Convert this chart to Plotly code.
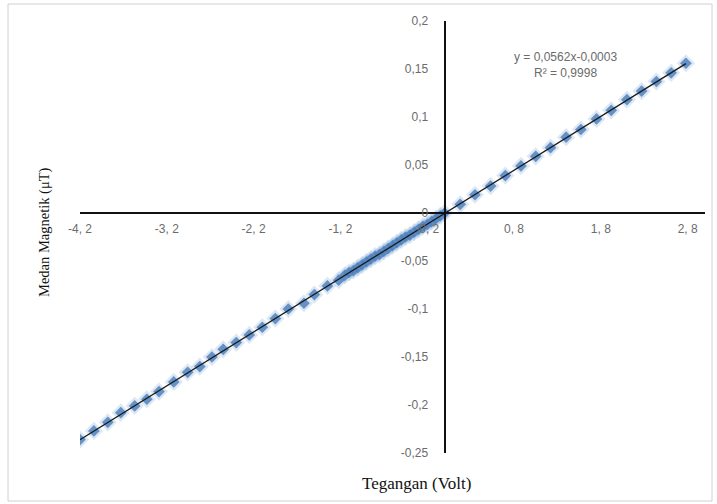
import numpy as np
import plotly.graph_objects as go

# ---- data ----
tegangan = [-4.2, -4.04, -3.88, -3.73, -3.57, -3.43, -3.29, -3.12, -2.96, -2.82,
            -2.68, -2.55, -2.40, -2.25, -2.10, -1.95, -1.80, -1.62, -1.50, -1.35,
            -1.22, -1.15, -1.10, -1.05, -1.00, -0.95, -0.90, -0.85, -0.80, -0.75,
            -0.70, -0.65, -0.60, -0.55, -0.50, -0.45, -0.40, -0.35, -0.30, -0.25,
            -0.20, -0.15, -0.10, -0.05, 0.00,
            0.18, 0.35, 0.53, 0.70, 0.88, 1.05, 1.22, 1.40, 1.57, 1.75,
            1.92, 2.10, 2.27, 2.44, 2.61, 2.78]
medan = [-0.236, -0.227, -0.218, -0.208, -0.201, -0.194, -0.186, -0.176, -0.166, -0.160,
         -0.150, -0.142, -0.135, -0.127, -0.119, -0.110, -0.100, -0.094, -0.085, -0.076,
         -0.070, -0.065, -0.062, -0.060, -0.057, -0.054, -0.051, -0.048, -0.045, -0.043,
         -0.040, -0.037, -0.034, -0.031, -0.028, -0.025, -0.023, -0.020, -0.017, -0.014,
         -0.012, -0.009, -0.006, -0.003, 0.000,
         0.009, 0.019, 0.028, 0.039, 0.049, 0.059, 0.068, 0.079, 0.087, 0.098,
         0.107, 0.118, 0.127, 0.137, 0.146, 0.156]

x_ticks = [-4.2, -3.2, -2.2, -1.2, -0.2, 0.8, 1.8, 2.8]
x_tick_labels = ["-4, 2", "-3, 2", "-2, 2", "-1, 2", "-0, 2", "0, 8", "1, 8", "2, 8"]
y_ticks = [0.2, 0.15, 0.1, 0.05, 0, -0.05, -0.1, -0.15, -0.2, -0.25]
y_tick_labels = ["0,2", "0,15", "0,1", "0,05", "0", "-0,05", "-0,1", "-0,15", "-0,2", "-0,25"]
equation_text = "y = 0,0562x-0,0003<br>R² = 0,9998"
x_title = "Tegangan (Volt)"
y_title = "Medan Magnetik (μT)"

X_RANGE = [-4.2, 3.0]
Y_RANGE = [-0.25, 0.2]

# ---- layout geometry (pixels) ----
W, H = 717, 504
L, R, T, B = 80, 705, 21, 453


def px(xp):
    return (xp - L) / (R - L)


def py(yp):
    return (B - yp) / (B - T)


slope, intercept = np.polyfit(tegangan, medan, 1)
trend_x = [min(tegangan), max(tegangan)]
trend_y = [slope * v + intercept for v in trend_x]

fig = go.Figure()
fig.add_trace(go.Scatter(
    x=tegangan, y=medan, mode="markers",
    marker=dict(symbol="diamond", size=14, color="rgba(120,165,210,0.25)", line=dict(width=0)),
    hoverinfo="skip", showlegend=False))
fig.add_trace(go.Scatter(
    x=tegangan, y=medan, mode="markers",
    marker=dict(symbol="diamond", size=9, color="rgba(79,129,189,0.85)", line=dict(width=0)),
    showlegend=False))
fig.add_trace(go.Scatter(
    x=trend_x, y=trend_y, mode="lines",
    line=dict(color="#1a1a1a", width=1.3), showlegend=False, hoverinfo="skip"))

x_zero_pos = (0 - Y_RANGE[0]) / (Y_RANGE[1] - Y_RANGE[0])
y_zero_pos = (0 - X_RANGE[0]) / (X_RANGE[1] - X_RANGE[0])

tick_font = dict(family="Liberation Sans, Arial, sans-serif", size=12, color="#6b6b6b")

fig.update_layout(
    width=W, height=H,
    margin=dict(l=L, r=W - R, t=T, b=H - B),
    paper_bgcolor="white", plot_bgcolor="white",
    xaxis=dict(range=X_RANGE, showgrid=False, zeroline=False,
               showline=True, linecolor="#111111", linewidth=2,
               anchor="free", position=x_zero_pos,
               tickmode="array", tickvals=x_ticks, ticktext=x_tick_labels,
               ticks="", ticklabelstandoff=5, tickfont=tick_font),
    yaxis=dict(range=Y_RANGE, showgrid=False, zeroline=False,
               showline=True, linecolor="#111111", linewidth=2,
               anchor="free", position=y_zero_pos,
               tickmode="array", tickvals=y_ticks, ticktext=y_tick_labels,
               ticks="", ticklabelstandoff=13, tickfont=tick_font),
    shapes=[dict(type="rect", xref="paper", yref="paper",
                 x0=px(8), x1=px(712), y0=py(501), y1=py(4),
                 line=dict(color="#d0d0d0", width=1), fillcolor="rgba(0,0,0,0)",
                 layer="below")],
    annotations=[
        dict(text=equation_text, xref="paper", yref="paper", x=px(565), y=py(65),
             showarrow=False, align="center", xanchor="center", yanchor="middle",
             font=dict(family="Liberation Sans, Arial, sans-serif", size=12, color="#6b6b6b")),
        dict(text=x_title, xref="paper", yref="paper", x=px(416), y=py(483),
             showarrow=False, xanchor="center", yanchor="middle",
             font=dict(family="Liberation Serif, Times New Roman, serif", size=17, color="#111111")),
        dict(text=y_title, xref="paper", yref="paper", x=px(44), y=py(232),
             showarrow=False, xanchor="center", yanchor="middle", textangle=-90,
             font=dict(family="Liberation Serif, Times New Roman, serif", size=14.5, color="#111111")),
    ],
)

fig.write_html("out.html")
